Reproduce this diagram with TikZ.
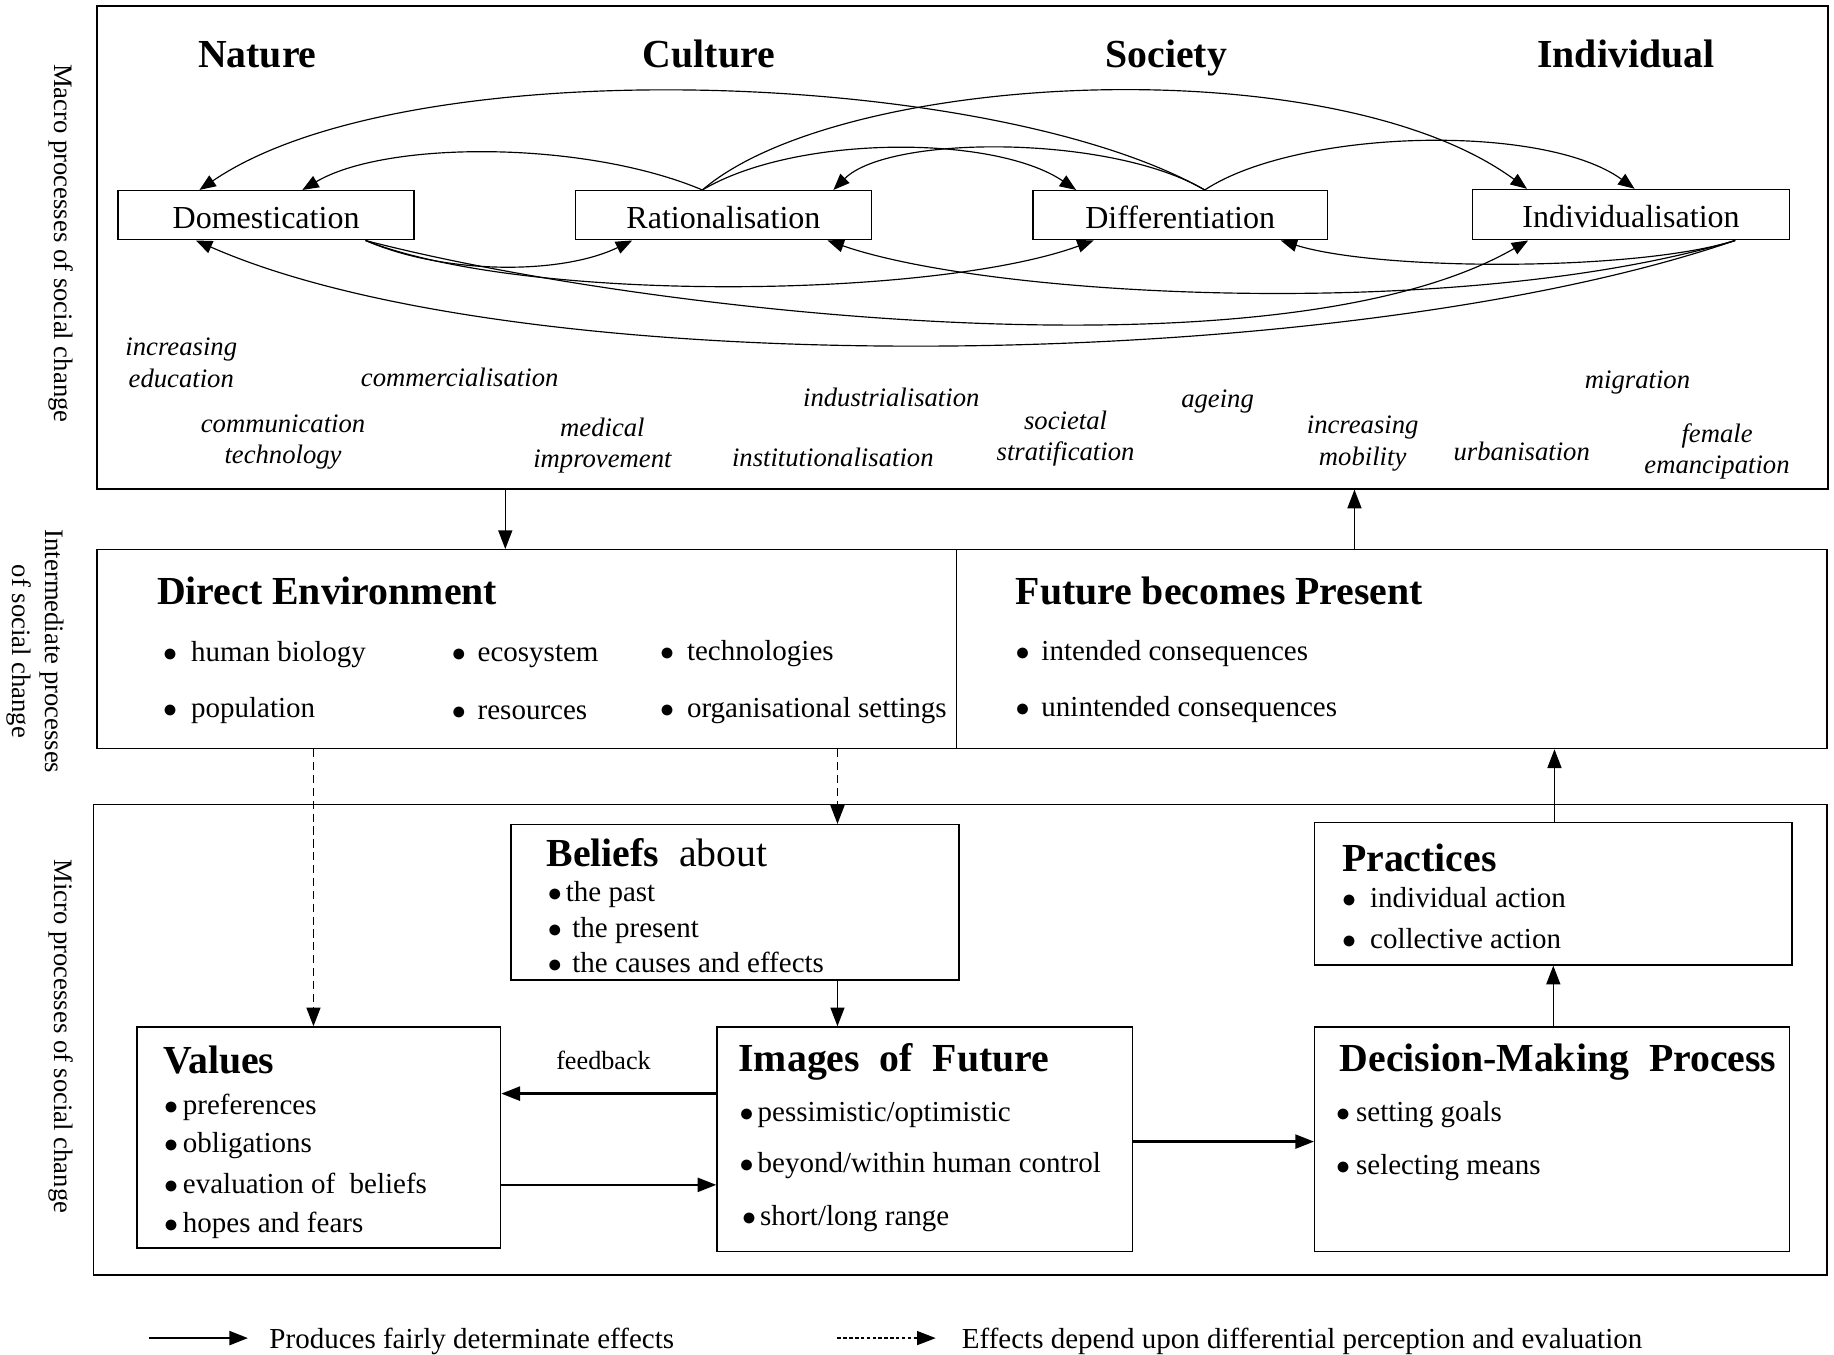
\documentclass[tikz,border=0pt]{standalone}
\usepackage{fontspec}
\setmainfont{Liberation Serif}
\usetikzlibrary{arrows.meta, calc}
\tikzset{
  frame/.style ={rectangle, draw, line width=0.6pt, inner sep=0pt},
  proc/.style  ={frame, fill=white, text height=11.3pt, text depth=0pt,
                 font=\fontsize{13.7}{16}\selectfont},
  hdr/.style   ={anchor=base, font=\fontsize{17}{20}\selectfont\bfseries},
  chg/.style   ={align=center, font=\fontsize{11.4}{13.5}\selectfont\itshape},
  side/.style  ={rotate=-90, align=center, font=\fontsize{11.4}{14}\selectfont},
  ttl/.style   ={anchor=west, inner sep=0pt, text height=14pt, text depth=2pt,
                 font=\fontsize{17}{20}\selectfont\bfseries},
  itm/.style   ={anchor=west, inner sep=0pt, text height=10.5pt, text depth=2pt,
                 font=\fontsize{12.4}{15}\selectfont},
  arr/.style   ={-{Triangle[length=8pt, width=6pt]}, line width=0.6pt},
  harr/.style  ={arr, line width=1pt},
  darr/.style  ={arr, dash pattern=on 3.5pt off 2pt},
  link/.style  ={-{Triangle[length=7pt, width=5.5pt]}, line width=0.5pt}
}
\newcommand{\itembul}[1][1.7pt]{$\bullet$\hspace{#1}}

\begin{document}
\begin{tikzpicture}[x=0.5pt, y=-0.5pt]
    \useasboundingbox (0,0) rectangle (1568,1158);

    % level labels
    \node[side] (lmac) at (52,208) {Macro processes of social change};
    \node[side] (lint) at (30,557) {Intermediate processes\\of social change};
    \node[side] (lmic) at (52,886) {Micro processes of social change};

    % macro level
    \node[frame, minimum width=740pt, minimum height=206.5pt] (macro) at (823,211.5) {};
    \node[hdr] (nat) at (220,58) {Nature};
    \node[hdr] (cul) at (606,58) {Culture};
    \node[hdr] (soc) at (997,58) {Society};
    \node[hdr] (idv) at (1390,58) {Individual};
    \node[proc, minimum width=126.5pt, minimum height=21pt] (dom) at (227.5,184) {Domestication};
    \node[proc, minimum width=126.5pt, minimum height=21pt] (rat) at (618.5,184) {Rationalisation};
    \node[proc, minimum width=126pt, minimum height=21pt] (dif) at (1009,184) {Differentiation};
    \node[proc, minimum width=135.5pt, minimum height=21.5pt] (ind) at (1394.5,183.5) {Individualisation};

    % links above the boxes
    \draw[link] ($(dif.north)+(21,0)$) .. controls (850,60) and (350,40) .. ($(dom.north)+(-57,0)$);
    \draw[link] ($(rat.north)+(-18,0)$) .. controls (720,60) and (1140,40) .. ($(ind.north)+(-89,0)$);
    \draw[link] ($(rat.north)+(-18,0)$) .. controls (500,120) and (330,120) .. ($(dom.north)+(31,0)$);
    \draw[link] ($(rat.north)+(-18,0)$) .. controls (680,115) and (850,115) .. ($(dif.north)+(-89,0)$);
    \draw[link] ($(dif.north)+(21,0)$) .. controls (950,115) and (760,115) .. ($(rat.north)+(94,0)$);
    \draw[link] ($(dif.north)+(21,0)$) .. controls (1110,110) and (1320,105) .. ($(ind.north)+(3,0)$);
    % links below the boxes
    \draw[link] ($(dom.south)+(85,0)$) .. controls (380,235) and (480,235) .. ($(rat.south)+(-78,0)$);
    \draw[link] ($(dom.south)+(85,0)$) .. controls (450,260) and (800,255) .. ($(dif.south)+(-74,0)$);
    \draw[link] ($(dom.south)+(85,0)$) .. controls (540,265) and (1090,330) .. ($(ind.south)+(-88,0)$);
    \draw[link] ($(ind.south)+(89,0)$) .. controls (1150,320) and (450,330) .. ($(dom.south)+(-60,0)$);
    \draw[link] ($(ind.south)+(89,0)$) .. controls (1250,275) and (850,255) .. ($(rat.south)+(89,0)$);
    \draw[link] ($(ind.south)+(89,0)$) .. controls (1400,232) and (1180,232) .. ($(dif.south)+(86,0)$);

    \node[chg] (edu) at (155,310) {increasing\\education};
    \node[chg] (com) at (393,323) {commercialisation};
    \node[chg] (cot) at (242,378) {communication\\technology};
    \node[chg] (med) at (515,381) {medical\\improvement};
    \node[chg] (inl) at (762,340) {industrialisation};
    \node[chg] (ins) at (712,391) {institutionalisation};
    \node[chg] (str) at (911,375) {societal\\stratification};
    \node[chg] (age) at (1041,343) {ageing};
    \node[chg] (mob) at (1165,379) {increasing\\mobility};
    \node[chg] (urb) at (1301,386) {urbanisation};
    \node[chg] (mig) at (1400,327) {migration};
    \node[chg] (fem) at (1468,386) {female\\emancipation};

    % intermediate level
    \node[frame, minimum width=367.5pt, minimum height=85pt] (direnv) at (450.5,555) {};
    \node[frame, minimum width=372pt, minimum height=85pt] (futpres) at (1190,555) {};
    \node[ttl] (detl) at (134,505) {Direct Environment};
    \node[itm] (de1) at (139,557) {\itembul[6pt]human biology};
    \node[itm] (de2) at (139,605) {\itembul[6pt]population};
    \node[itm] (de3) at (386,557) {\itembul[5pt]ecosystem};
    \node[itm] (de4) at (386,607) {\itembul[5pt]resources};
    \node[itm] (de5) at (564,556) {\itembul[5.5pt]technologies};
    \node[itm] (de6) at (564,605) {\itembul[5.5pt]organisational settings};
    \node[ttl] (fptl) at (868,505) {Future becomes Present};
    \node[itm] (fp1) at (868,556) {\itembul[5pt]intended consequences};
    \node[itm] (fp2) at (868,604) {\itembul[5pt]unintended consequences};

    % micro level
    \node[frame, minimum width=741pt, minimum height=201pt] (micro) at (821,889) {};
    \node[frame, minimum width=191.5pt, minimum height=66.5pt] (beliefs) at (628.5,771.5) {};
    \node[frame, minimum width=155.5pt, minimum height=94.5pt] (values) at (272.5,972.5) {};
    \node[frame, minimum width=177.5pt, minimum height=96pt] (images) at (790.5,974) {};
    \node[frame, minimum width=204pt, minimum height=61pt] (practices) at (1328,764) {};
    \node[frame, minimum width=203pt, minimum height=96pt] (decision) at (1327,974) {};

    \node[ttl] (betl) at (467,729) {Beliefs\ \ {\mdseries about}};
    \node[itm] (be1) at (468,762) {\itembul the past};
    \node[itm] (be2) at (468,793) {\itembul[4.5pt]the present};
    \node[itm] (be3) at (468,823) {\itembul[4.5pt]the causes and effects};

    \node[ttl] (vatl) at (139,906) {Values};
    \node[itm] (va1) at (140,944) {\itembul[2pt]preferences};
    \node[itm] (va2) at (140,977) {\itembul[2pt]obligations};
    \node[itm] (va3) at (140,1012) {\itembul[2pt]evaluation of\ \ beliefs};
    \node[itm] (va4) at (140,1045) {\itembul[2pt]hopes and fears};

    \node[ttl] (imtl) at (631,904) {Images\ \ of\ \ Future};
    \node[itm] (im1) at (632,950) {\itembul pessimistic/optimistic};
    \node[itm] (im2) at (632,994) {\itembul beyond/within human control};
    \node[itm] (im3) at (634,1039) {\itembul short/long range};

    \node[ttl] (prtl) at (1147,733) {Practices};
    \node[itm] (pr1) at (1147,767) {\itembul[6pt]individual action};
    \node[itm] (pr2) at (1147,802) {\itembul[6pt]collective action};

    \node[ttl] (dmtl) at (1145,904) {Decision-Making\ \ Process};
    \node[itm] (dm1) at (1142,950) {\itembul[2.5pt]setting goals};
    \node[itm] (dm2) at (1142,996) {\itembul[2.5pt]selecting means};

    \node[font=\fontsize{11.2}{13}\selectfont] (fb) at (516,907) {feedback};

    % connectors between levels
    \draw[arr] (432,0 |- macro.south) -- (432,0 |- direnv.north);
    \draw[arr] (1158,0 |- futpres.north) -- (1158,0 |- macro.south);
    \draw[darr] (268,0 |- direnv.south) -- (268,0 |- values.north);
    \draw[darr] (716,0 |- direnv.south) -- (716,0 |- beliefs.north);
    \draw[arr] (716,0 |- beliefs.south) -- (716,0 |- images.north);
    \draw[harr] (images.west |- 0,935) -- (values.east |- 0,935);
    \draw[harr] (values.east |- 0,1013) -- (images.west |- 0,1013);
    \draw[harr] (images.east |- 0,976) -- (decision.west |- 0,976);
    \draw[arr] (1328,0 |- decision.north) -- (1328,0 |- practices.south);
    \draw[arr] (1329,0 |- practices.north) -- (1329,0 |- futpres.south);

    % legend
    \coordinate (lgs1) at (127,1144);
    \node[itm] (lgt1) at (230,1144) {Produces fairly determinate effects};
    \draw[harr] (lgs1) -- ($(lgt1.west)+(-18,0)$);
    \coordinate (lgs2) at (716,1144);
    \node[itm] (lgt2) at (822,1144) {Effects depend upon differential perception and evaluation};
    \draw[arr, dash pattern=on 1.5pt off 1pt] (lgs2) -- ($(lgt2.west)+(-22,0)$);
\end{tikzpicture}
\end{document}
